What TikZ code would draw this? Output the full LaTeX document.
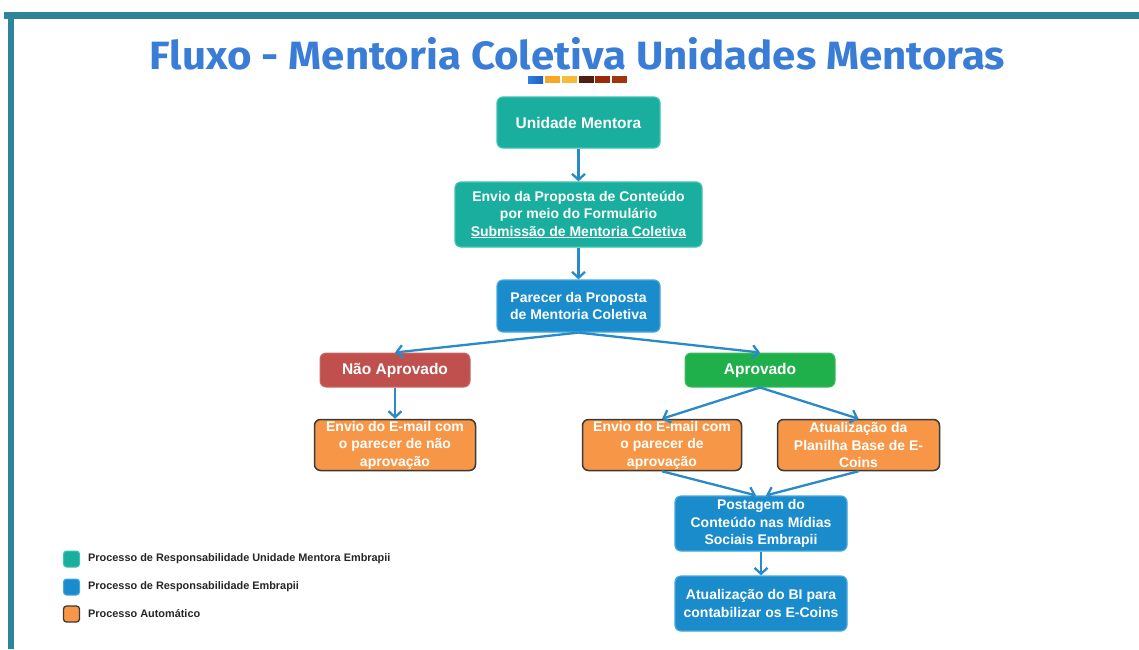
\documentclass[tikz,border=0pt]{standalone}
\usepackage{fontspec}
\setmainfont{Liberation Sans}
\newfontfamily\titlefont{Fira Sans}
\usetikzlibrary{arrows.meta}
\definecolor{frame}{HTML}{2E8599}
\definecolor{titleblue}{HTML}{3A7DD7}
\definecolor{tealfill}{HTML}{19AE9D}
\definecolor{tealline}{HTML}{3FC3B3}
\definecolor{bluefill}{HTML}{1A8CCB}
\definecolor{blueline}{HTML}{45A9DD}
\definecolor{redfill}{HTML}{C0504D}
\definecolor{greenfill}{HTML}{1FB04B}
\definecolor{orangefill}{HTML}{F79646}
\definecolor{darkline}{HTML}{3A3A3A}
\definecolor{arrowblue}{HTML}{2A8AC8}
\definecolor{sqA}{HTML}{2F80E0}
\definecolor{sqAA}{HTML}{1B5FBF}
\definecolor{sqB}{HTML}{F7A823}
\definecolor{sqC}{HTML}{F9BA3A}
\definecolor{sqD}{HTML}{521C10}
\definecolor{sqE}{HTML}{9C2A0A}
\definecolor{sqF}{HTML}{A1350E}
\tikzset{
  box/.style={rectangle, rounded corners=6pt, text=white, align=center, inner sep=0pt,
    font=\bfseries\fontsize{14}{17.5}\selectfont},
  bigtext/.style={font=\bfseries\fontsize{15.5}{18}\selectfont},
  tealbox/.style={box, fill=tealfill, draw=tealline, line width=1.2pt},
  bluebox/.style={box, fill=bluefill, draw=blueline, line width=1.2pt},
  orangebox/.style={box, fill=orangefill, draw=darkline, line width=1.5pt},
  redbox/.style={box, fill=redfill, draw=redfill!85!white, line width=1pt},
  greenbox/.style={box, fill=greenfill, draw=greenfill!85!white, line width=1pt},
  flow/.style={draw=arrowblue, line width=2.3pt, -{Straight Barb[length=6pt,width=13pt,line width=2.3pt]}},
  legsq/.style={rectangle, rounded corners=3pt, minimum width=16pt, minimum height=16pt, inner sep=0pt},
  legtext/.style={anchor=west, inner sep=0pt, font=\fontsize{10.9}{13}\selectfont\bfseries, text=black!85},
  colsq/.style={rectangle, minimum width=15pt, minimum height=7pt, inner sep=0pt}
}
\begin{document}
\begin{tikzpicture}[x=1pt,y=-1pt]
\useasboundingbox (0,0) rectangle (1139,649);
\fill[white] (0,0) rectangle (1139,649);
% frame
\fill[frame] (4,12) rectangle (1139,18.5);
\fill[frame] (8,12) rectangle (14,649);
% title
\node[anchor=base, inner sep=0pt, text=titleblue] (title) at (577.5,69)
  {\resizebox{855pt}{32pt}{\titlefont\bfseries Fluxo - Mentoria Coletiva Unidades Mentoras}};
% color squares
\node[colsq, left color=sqA, right color=sqAA] (c1) at (535.5,79.5) {};
\node[colsq, fill=sqB] (c2) at (552.5,79.5) {};
\node[colsq, fill=sqC] (c3) at (569.5,79.5) {};
\node[colsq, fill=sqD] (c4) at (586,79.5) {};
\node[colsq, fill=sqE] (c5) at (602.5,79.5) {};
\node[colsq, fill=sqF] (c6) at (619.5,79.5) {};
% nodes
\node[tealbox, bigtext, minimum width=163pt, minimum height=51pt] (um) at (578.5,122.5) {Unidade Mentora};
\node[tealbox, minimum width=247pt, minimum height=65pt] (envio) at (578.5,214.5)
  {Envio da Proposta de Conteúdo\\por meio do Formulário\\\underline{Submissão de Mentoria Coletiva}};
\node[bluebox, minimum width=163pt, minimum height=52pt] (parecer) at (578.5,306)
  {Parecer da Proposta\\de Mentoria Coletiva};
\node[redbox, bigtext, minimum width=150pt, minimum height=34pt] (nao) at (395,370) {Não Aprovado};
\node[greenbox, bigtext, minimum width=150pt, minimum height=34pt] (apr) at (760,370) {Aprovado};
\node[orangebox, minimum width=161pt, minimum height=51pt] (emailn) at (395,445)
  {Envio do E-mail com\\o parecer de não\\aprovação};
\node[orangebox, minimum width=159pt, minimum height=51pt] (emaila) at (662,445)
  {Envio do E-mail com\\o parecer de\\aprovação};
\node[orangebox, minimum width=162pt, minimum height=51pt] (plan) at (858.5,445)
  {Atualização da\\Planilha Base de E-\\Coins};
\node[bluebox, minimum width=172pt, minimum height=55pt] (post) at (761,523.5)
  {Postagem do\\Conteúdo nas Mídias\\Sociais Embrapii};
\node[bluebox, minimum width=172pt, minimum height=55pt] (bi) at (761,603.5)
  {Atualização do BI para\\contabilizar os E-Coins};
% connectors
\draw[flow] (um.south) -- (envio.north);
\draw[flow] (envio.south) -- (parecer.north);
\draw[flow] (parecer.south) -- (nao.north);
\draw[flow] (parecer.south) -- (apr.north);
\draw[flow] (nao.south) -- (emailn.north);
\draw[flow] (apr.south) -- (emaila.north);
\draw[flow] (apr.south) -- (plan.north);
\draw[flow] (emaila.south) -- ([xshift=-5pt]post.north);
\draw[flow] (plan.south) -- ([xshift=5pt]post.north);
\draw[flow] (post.south) -- (bi.north);
% legend
\node[legsq, fill=tealfill, draw=tealline, line width=1pt] (l1) at (71.5,559) {};
\node[legsq, fill=bluefill, draw=blueline, line width=1pt] (l2) at (71.5,587) {};
\node[legsq, fill=orangefill, draw=darkline, line width=1.3pt] (l3) at (71.5,614) {};
\node[legtext] (t1) at (88,559) {Processo de Responsabilidade Unidade Mentora Embrapii};
\node[legtext] (t2) at (88,587) {Processo de Responsabilidade Embrapii};
\node[legtext] (t3) at (88,614) {Processo Automático};
\end{tikzpicture}
\end{document}
